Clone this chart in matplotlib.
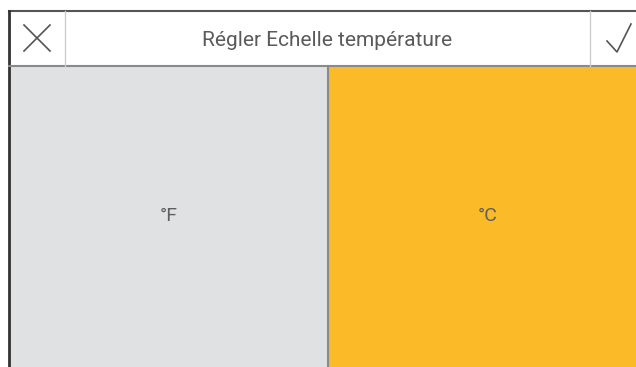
import matplotlib.pyplot as plt
from matplotlib.patches import Rectangle

# screen content
title = "Régler Echelle température"
options = ["°F", "°C"]
selected = 1

W, H = 636, 367
fig = plt.figure(figsize=(W / 100, H / 100), dpi=100)
ax = fig.add_axes([0, 0, 1, 1])
ax.set_xlim(0, W)
ax.set_ylim(H, 0)
ax.axis("off")

left, top, head_bot, split = 9, 11, 66, 328
grey, yellow = "#e0e1e3", "#fbba27"

# option panels (right one runs a bit past the screenshot edge)
bounds = [(left, split), (split, W + 12)]
for i, (lab, (x0, x1)) in enumerate(zip(options, bounds)):
    ax.add_patch(Rectangle((x0, head_bot), x1 - x0, H - head_bot,
                           facecolor=yellow if i == selected else grey, lw=0))
    ax.text((x0 + x1) / 2, 216, lab, ha="center", va="center",
            fontsize=14, color="#5f5f5f", family="Roboto")
ax.plot([split, split], [head_bot, H], color="#8a8a8a", lw=1.5)

# header
ax.plot([left, W], [top, top], color="#555555", lw=1.5)
ax.plot([left, left], [top, H], color="#333333", lw=2)
ax.plot([left, W], [head_bot, head_bot], color="#8a8a8a", lw=1.5)
for x in (65, 590):
    ax.plot([x, x], [top, head_bot], color="#cccccc", lw=1)
ax.text(327.5, 41, title, ha="center", va="center", fontsize=15,
        color="#5a5a5a", family="Roboto")

# icons
ax.plot([24, 50], [25, 51], color="#555555", lw=1.2)
ax.plot([24, 50], [51, 25], color="#555555", lw=1.2)
ax.plot([607, 617, 631], [41, 52, 24], color="#555555", lw=1.2)

fig.savefig("out.png", dpi=100)
